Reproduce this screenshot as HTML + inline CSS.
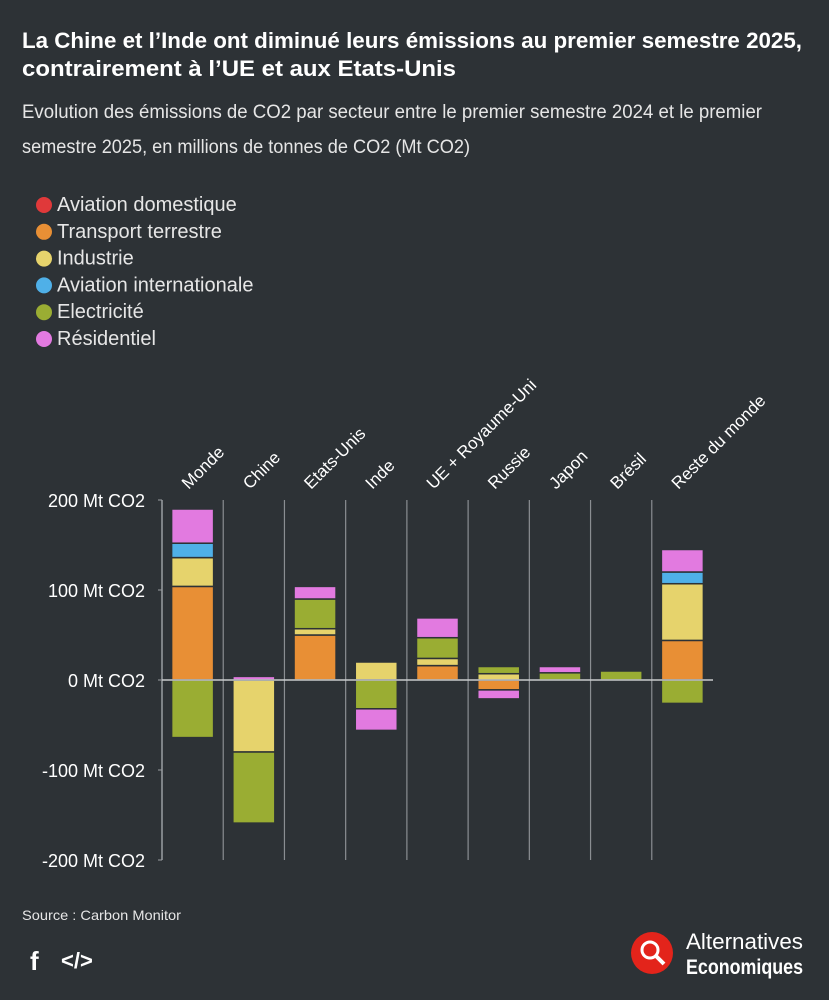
<!DOCTYPE html>
<html><head><meta charset="utf-8"><style>
html,body{margin:0;padding:0;background:#2d3236;}
svg{display:block;font-family:"Liberation Sans",sans-serif;}
</style></head><body>
<svg id="chart" width="829" height="1000" viewBox="0 0 829 1000">
<rect width="829" height="1000" fill="#2d3236"/>
<text x="22" y="48" fill="#fff" font-size="22" font-weight="bold" textLength="780" lengthAdjust="spacingAndGlyphs">La Chine et l’Inde ont diminué leurs émissions au premier semestre 2025,</text>
<text x="22" y="76" fill="#fff" font-size="22" font-weight="bold" textLength="434" lengthAdjust="spacingAndGlyphs">contrairement à l’UE et aux Etats-Unis</text>
<text x="22" y="118" fill="#e6e6e6" font-size="19" textLength="740" lengthAdjust="spacingAndGlyphs">Evolution des émissions de CO2 par secteur entre le premier semestre 2024 et le premier</text>
<text x="22" y="153" fill="#e6e6e6" font-size="19" textLength="448" lengthAdjust="spacingAndGlyphs">semestre 2025, en millions de tonnes de CO2 (Mt CO2)</text>
<g id="legend"></g>
<g id="plot"></g>
<text x="22" y="920" fill="#e6e6e6" font-size="14" textLength="159" lengthAdjust="spacingAndGlyphs">Source : Carbon Monitor</text>
<text x="30" y="970" fill="#fff" font-size="26" font-weight="bold">f</text>
<text x="61" y="968" fill="#fff" font-size="22" font-weight="bold">&lt;/&gt;</text>
<g>
<circle cx="652" cy="953" r="21" fill="#e3241b"/>
<circle cx="650" cy="950" r="8" fill="none" stroke="#fff" stroke-width="3"/>
<line x1="656" y1="956" x2="664" y2="964" stroke="#fff" stroke-width="4"/>
<text x="686" y="949" fill="#fff" font-size="22" textLength="117" lengthAdjust="spacingAndGlyphs">Alternatives</text>
<text x="686" y="974" fill="#fff" font-size="21" font-weight="bold" textLength="117" lengthAdjust="spacingAndGlyphs">Economiques</text>
</g>
</svg>
<script>
const sectors = ["Aviation domestique","Transport terrestre","Industrie","Aviation internationale","Electricité","Résidentiel"];
const colors = ["#e0393a","#e88f35","#e6d36c","#4fb0e8","#9aad33","#e27ae0"];
const categories = ["Monde","Chine","Etats-Unis","Inde","UE + Royaume-Uni","Russie","Japon","Brésil","Reste du monde"];
const aviationDom = [0,0,0,0,0,0,0,0,0];
const transport = [104,0,50,0,16,-11,0,0,44];
const industrie = [32,-80,7,20,8,7,0,0,63];
const aviationInt = [16,0,0,0,0,0,0,0,13];
const electricite = [-64,-79,33,-32,23,8,8,10,-26];
const residentiel = [38,4,14,-24,22,-10,7,0,25];
const yTicks = [200,100,0,-100,-200];
const series = [aviationDom,transport,industrie,aviationInt,electricite,residentiel];

const NS="http://www.w3.org/2000/svg";
function mk(tag,attrs,parent){const e=document.createElementNS(NS,tag);for(const k in attrs)e.setAttribute(k,attrs[k]);parent.appendChild(e);return e;}
const plotX0=162, plotX1=713, y0=680, pxPerUnit=0.9;
const y=v=>y0 - v*pxPerUnit;
const colW=(plotX1-plotX0)/categories.length;
const x=i=>plotX0+i*colW;

const legend=document.getElementById('legend');
sectors.forEach((s,i)=>{
  const g=mk('g',{},legend);
  
  
  mk('circle',{cx:44,cy:205+i*26.8,r:8,fill:colors[i]},g);
  const t=mk('text',{x:57,y:211+i*26.8,fill:'#e6e6e6','font-size':20},g);
  t.textContent=s;
});

const plot=document.getElementById('plot');
yTicks.forEach(v=>{
  const t=mk('text',{x:145,y:y(v)+7,fill:'#fff','font-size':18,'text-anchor':'end'},plot);
  
  
  t.textContent=v+' Mt CO2';
  mk('line',{x1:plotX0-4,x2:plotX0,y1:y(v),y2:y(v),stroke:'#9a9ea2','stroke-width':1},plot);
});
const ax=mk('line',{x1:plotX0,x2:plotX0,y1:y(200),y2:y(-200),stroke:'#9a9ea2','stroke-width':1.5},plot);


for(let i=1;i<categories.length;i++){
  const l=mk('line',{x1:x(i),x2:x(i),y1:y(200),y2:y(-200),stroke:'#8a8e92','stroke-width':1.2},plot);
  
  
}
categories.forEach((c,i)=>{
  const cx=x(i)+colW/2;
  let pos=0,neg=0;
  series.forEach((arr,s)=>{
    const v=arr[i]; if(!v) return;
    let top,bot;
    if(v>0){top=y(pos+v);bot=y(pos);pos+=v;}else{top=y(neg);bot=y(neg+v);neg+=v;}
    const r=mk('rect',{x:cx-21,y:top,width:42,height:Math.max(bot-top,1),fill:colors[s],stroke:'#2d3236','stroke-width':1.5},plot);
    
    
  });
  const t=mk('text',{x:0,y:0,fill:'#fff','font-size':17,transform:`translate(${cx-4},${y(200)-10}) rotate(-45)`},plot);
  
  
  t.textContent=c;
});
const z=mk('line',{x1:plotX0,x2:plotX1,y1:y(0),y2:y(0),stroke:'#c8cacc','stroke-width':1.5},plot);


</script>
</body></html>
